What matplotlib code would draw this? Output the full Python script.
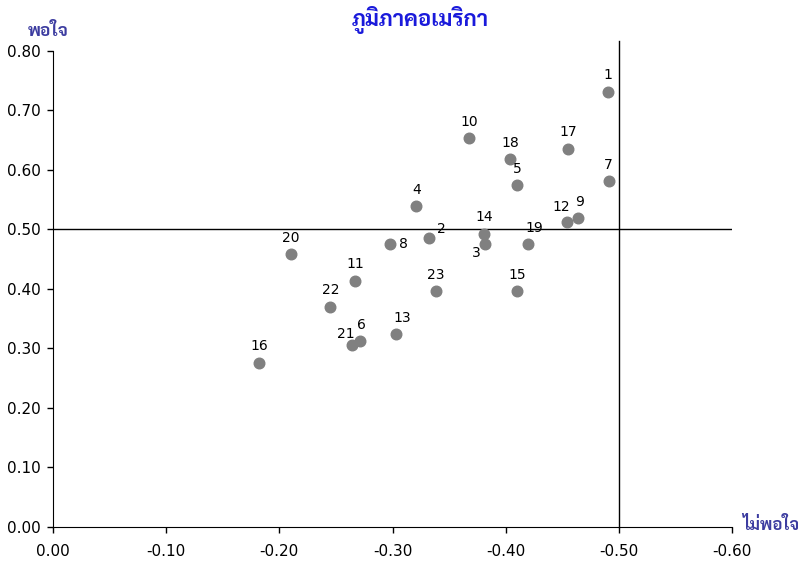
import matplotlib
matplotlib.use("Agg")
import matplotlib.pyplot as plt

# =============================================================================
# DATA
# =============================================================================
labels = ["1", "2", "3", "4", "5", "6", "7", "8", "9", "10", "11", "12",
          "13", "14", "15", "16", "17", "18", "19", "20", "21", "22", "23"]
x_vals = [-0.490, -0.332, -0.382, -0.321, -0.410, -0.271, -0.491, -0.298,
          -0.464, -0.368, -0.267, -0.454, -0.303, -0.381, -0.410, -0.182,
          -0.455, -0.404, -0.420, -0.210, -0.264, -0.245, -0.338]
y_vals = [0.731, 0.485, 0.475, 0.539, 0.574, 0.313, 0.581, 0.476,
          0.520, 0.653, 0.414, 0.512, 0.325, 0.493, 0.396, 0.276,
          0.635, 0.618, 0.476, 0.458, 0.306, 0.370, 0.396]

title = "ภูมิภาคอเมริกา"
y_name = "พอใจ"
x_name = "ไม่พอใจ"

x_ticks = [0.0, -0.1, -0.2, -0.3, -0.4, -0.5, -0.6]
y_ticks = [0.0, 0.1, 0.2, 0.3, 0.4, 0.5, 0.6, 0.7, 0.8]

# label offsets in points (dx, dy, ha)
offsets = {
    "2": (6, 2, "left"), "8": (6, 0, "left"), "3": (-3, -6, "right"),
    "19": (-2, 6, "left"), "12": (2, 6, "right"), "9": (-2, 6, "left"),
    "21": (2, 3, "right"), "6": (-2, 6, "left"), "13": (-2, 6, "left"),
}

thai_fonts = ["Sarabun", "Noto Sans Thai", "IBM Plex Sans Thai", "DejaVu Sans"]
plt.rcParams["font.family"] = ["DejaVu Sans"] + thai_fonts[:3]

fig = plt.figure(figsize=(8.01, 5.64), dpi=100)
ax = fig.add_axes([0.0662, 0.0656, 0.8477, 0.8440])

ax.scatter(x_vals, y_vals, s=58, color="#808080", zorder=3)
for lab, xv, yv in zip(labels, x_vals, y_vals):
    dx, dy, ha = offsets.get(lab, (0, 7, "center"))
    ax.annotate(lab, (xv, yv), xytext=(dx, dy), textcoords="offset points",
                ha=ha, va="bottom" if dy > 0 else "center", fontsize=10)

ax.axhline(0.5, color="black", linewidth=1)
ax.plot([-0.5, -0.5], [0, 0.817], color="black", linewidth=1, clip_on=False)

ax.set_xlim(0, -0.6)
ax.set_ylim(0, 0.8)
ax.set_xticks(x_ticks)
ax.set_xticklabels([f"{v:.2f}" for v in x_ticks])
ax.set_yticks(y_ticks)
ax.set_yticklabels([f"{v:.2f}" for v in y_ticks])
ax.tick_params(labelsize=11, length=4, width=1)
ax.tick_params(axis="y", pad=5)
ax.tick_params(axis="x", pad=8)
ax.spines["top"].set_visible(False)
ax.spines["right"].set_visible(False)

fig.text(0.525, 0.965, title, ha="center", va="center", color="#1a1adb",
         fontsize=16, fontweight="bold", family=thai_fonts)
fig.text(0.06, 0.945, y_name, ha="center", va="center", color="#3c3ca0",
         fontsize=12.5, fontweight="bold", family=thai_fonts)
fig.text(0.926, 0.068, x_name, ha="left", va="center", color="#3c3ca0",
         fontsize=12, fontweight="bold", family=thai_fonts)

fig.savefig("out.png", dpi=100)
